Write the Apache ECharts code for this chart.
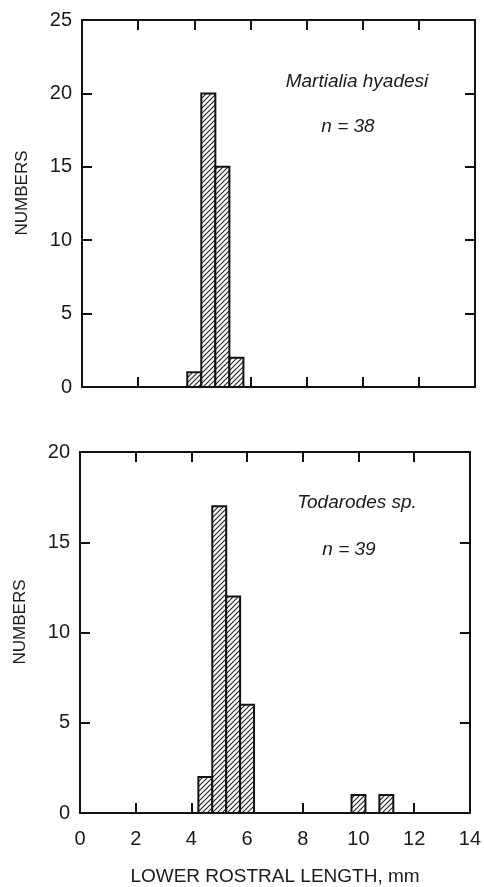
<!DOCTYPE html>
<html>
<head>
<meta charset="utf-8">
<script src="https://cdn.jsdelivr.net/npm/echarts@6/dist/echarts.min.js"></script>
<style>html,body{margin:0;padding:0;background:#fff}#c{width:484px;height:887px}</style>
</head>
<body>
<div id="c"></div>
<script>
// ---- data ----
const binWidth = 0.5;
const topBinStart = [3.75, 4.25, 4.75, 5.25];
const topCounts = [1, 20, 15, 2];
const bottomBinStart = [4.25, 4.75, 5.25, 5.75, 9.75, 10.75];
const bottomCounts = [2, 17, 12, 6, 1, 1];
const xTicks = [0, 2, 4, 6, 8, 10, 12, 14];
const topYTicks = [0, 5, 10, 15, 20, 25];
const bottomYTicks = [0, 5, 10, 15, 20];
const topSpecies = 'Martialia hyadesi';
const topN = 'n = 38';
const bottomSpecies = 'Todarodes sp.';
const bottomN = 'n = 39';
const yName = 'NUMBERS';
const xName = 'LOWER ROSTRAL LENGTH, mm';

// hatch pattern
const tile = document.createElement('canvas');
tile.width = 5; tile.height = 5;
const g = tile.getContext('2d');
g.fillStyle = '#fff'; g.fillRect(0, 0, 5, 5);
g.strokeStyle = '#222'; g.lineWidth = 1.1;
g.beginPath();
g.moveTo(-1, 6); g.lineTo(6, -1);
g.moveTo(-1, 1); g.lineTo(1, -1);
g.moveTo(4, 6); g.lineTo(6, 4);
g.stroke();
const hatch = { image: tile, repeat: 'repeat' };

const FONT = 'Liberation Sans, Arial, Helvetica, sans-serif';
const TXT = '#1a1a1a';

function xAxes(gridIndex, showLabels) {
  const base = {
    type: 'value', gridIndex, min: xTicks[0], max: xTicks[xTicks.length - 1], interval: 2,
    splitLine: { show: false },
    axisLine: { show: true, onZero: false, lineStyle: { color: '#111', width: 2 } },
    axisTick: { show: true, inside: true, length: 10, lineStyle: { color: '#111', width: 2 } }
  };
  return [
    Object.assign({}, base, {
      position: 'bottom',
      axisLabel: { show: showLabels, color: TXT, fontSize: 20, fontFamily: FONT, margin: 16 }
    }),
    Object.assign({}, base, { position: 'top', axisLabel: { show: false } })
  ];
}
function yAxes(gridIndex, ticks) {
  const base = {
    type: 'value', gridIndex, min: ticks[0], max: ticks[ticks.length - 1], interval: 5,
    splitLine: { show: false },
    axisLine: { show: true, onZero: false, lineStyle: { color: '#111', width: 2 } },
    axisTick: { show: true, inside: true, length: 10, lineStyle: { color: '#111', width: 2 } }
  };
  return [
    Object.assign({}, base, {
      position: 'left',
      axisLabel: { color: TXT, fontSize: 20, fontFamily: FONT, margin: 10 }
    }),
    Object.assign({}, base, { position: 'right', axisLabel: { show: false } })
  ];
}
function renderBin(params, api) {
  const x0 = api.value(0), x1 = api.value(1), y = api.value(2);
  const p0 = api.coord([x0, 0]);
  const p1 = api.coord([x1, y]);
  return {
    type: 'rect',
    shape: { x: p0[0], y: p1[1], width: p1[0] - p0[0], height: p0[1] - p1[1] },
    style: { fill: hatch, stroke: '#111', lineWidth: 2 }
  };
}

const chart = echarts.init(document.getElementById('c'), null, { renderer: 'canvas' });
chart.setOption({
  animation: false,
  backgroundColor: '#fff',
  grid: [
    { left: 82, top: 20, width: 393, height: 367 },
    { left: 80, top: 452, width: 393, height: 361 }
  ],
  xAxis: [...xAxes(0, false), ...xAxes(1, true)],
  yAxis: [...yAxes(0, topYTicks), ...yAxes(1, bottomYTicks)],
  series: [
    {
      type: 'custom', xAxisIndex: 0, yAxisIndex: 0,
      data: topBinStart.map((s, i) => [s, s + binWidth, topCounts[i]]),
      encode: { x: [0, 1], y: 2 }, renderItem: renderBin
    },
    {
      type: 'custom', xAxisIndex: 2, yAxisIndex: 2,
      data: bottomBinStart.map((s, i) => [s, s + binWidth, bottomCounts[i]]),
      encode: { x: [0, 1], y: 2 }, renderItem: renderBin
    }
  ],
  graphic: [
    { type: 'text', x: 357, y: 82, style: { text: topSpecies, fill: TXT, font: 'italic 19px ' + FONT, textAlign: 'center', textVerticalAlign: 'middle' } },
    { type: 'text', x: 348, y: 127, style: { text: topN, fill: TXT, font: 'italic 19px ' + FONT, textAlign: 'center', textVerticalAlign: 'middle' } },
    { type: 'text', x: 357, y: 503, style: { text: bottomSpecies, fill: TXT, font: 'italic 19px ' + FONT, textAlign: 'center', textVerticalAlign: 'middle' } },
    { type: 'text', x: 349, y: 550, style: { text: bottomN, fill: TXT, font: 'italic 19px ' + FONT, textAlign: 'center', textVerticalAlign: 'middle' } },
    { type: 'text', x: 22, y: 193, rotation: Math.PI / 2, style: { text: yName, fill: TXT, font: '17px ' + FONT, textAlign: 'center', textVerticalAlign: 'middle' } },
    { type: 'text', x: 20, y: 622, rotation: Math.PI / 2, style: { text: yName, fill: TXT, font: '17px ' + FONT, textAlign: 'center', textVerticalAlign: 'middle' } },
    { type: 'text', x: 275, y: 877, style: { text: xName, fill: TXT, font: '19px ' + FONT, textAlign: 'center', textVerticalAlign: 'middle' } }
  ]
});
</script>
</body>
</html>
